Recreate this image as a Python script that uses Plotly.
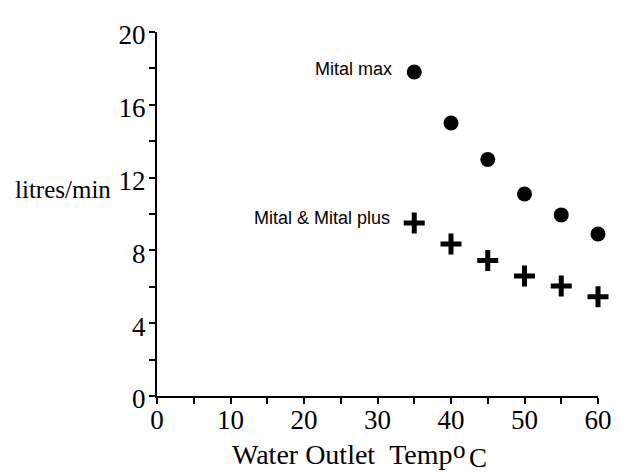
import plotly.graph_objects as go

temps = [35, 40, 45, 50, 55, 60]
mital_max = [17.8, 15.0, 13.0, 11.1, 9.95, 8.9]
mital_plus = [9.5, 8.35, 7.45, 6.6, 6.05, 5.45]
x_ticks = [0, 10, 20, 30, 40, 50, 60]
y_ticks = [0, 4, 8, 12, 16, 20]

fig = go.Figure()
fig.add_trace(go.Scatter(x=temps, y=mital_max, mode="markers",
                         marker=dict(symbol="circle", size=15, color="black", line=dict(width=0)),
                         name="Mital max"))
fig.add_trace(go.Scatter(x=temps, y=mital_plus, mode="markers",
                         marker=dict(symbol="cross-thin", size=15, color="black",
                                     line=dict(width=5, color="black")),
                         name="Mital & Mital plus"))

lab_font = dict(family="Liberation Sans, Arial", size=18, color="black")
fig.add_annotation(x=temps[0], y=mital_max[0], text="Mital max", showarrow=False,
                   xanchor="right", xshift=-20, yshift=3, font=lab_font)
fig.add_annotation(x=temps[0], y=mital_plus[0], text="Mital & Mital plus", showarrow=False,
                   xanchor="right", xshift=-22, yshift=5, font=lab_font)

serif = "Liberation Serif, Times New Roman, serif"
fig.add_annotation(xref="paper", yref="paper", x=-0.214, y=0.566, text="litres/min",
                   showarrow=False, xanchor="center", yanchor="middle",
                   font=dict(family=serif, size=25, color="black"))
title_font = dict(family=serif, size=28, color="black")
fig.add_annotation(xref="paper", yref="paper", x=0.1648, y=-0.1603,
                   text="Water Outlet\u00a0\u00a0Temp",
                   showarrow=False, xanchor="left", yanchor="middle", font=title_font)
fig.add_annotation(xref="paper", yref="paper", x=0.670, y=-0.147, text="o", borderpad=0,
                   showarrow=False, xanchor="left", yanchor="middle",
                   font=dict(family=serif, size=25, color="black"))
fig.add_annotation(xref="paper", yref="paper", x=0.706, y=-0.1712, text="C", borderpad=0,
                   showarrow=False, xanchor="left", yanchor="middle",
                   font=dict(family=serif, size=27, color="black"))

fig.update_xaxes(range=[0, 60], tickvals=x_ticks, ticks="outside", ticklen=6, tickwidth=1.5,
                 tickcolor="black", showline=True, linewidth=2, linecolor="black",
                 showgrid=False, zeroline=False, ticklabelstandoff=-7,
                 tickfont=dict(family=serif, size=27, color="black"),
                 minor=dict(dtick=5, ticks="outside", ticklen=6, tickwidth=1.5, tickcolor="black",
                            showgrid=False))
fig.update_yaxes(range=[0, 20], tickvals=y_ticks, ticks="outside", ticklen=6, tickwidth=1.5,
                 tickcolor="black", showline=True, linewidth=2, linecolor="black",
                 showgrid=False, zeroline=False, ticklabelstandoff=-2, ticklabelshift=3,
                 tickfont=dict(family=serif, size=27, color="black"),
                 minor=dict(dtick=2, ticks="outside", ticklen=6, tickwidth=1.5, tickcolor="black",
                            showgrid=False))

fig.update_layout(width=621, height=472, margin=dict(l=149, r=31, t=20, b=84),
                  plot_bgcolor="white", paper_bgcolor="white", showlegend=False)
fig.update_traces(cliponaxis=False)
fig.write_html("out.html")
